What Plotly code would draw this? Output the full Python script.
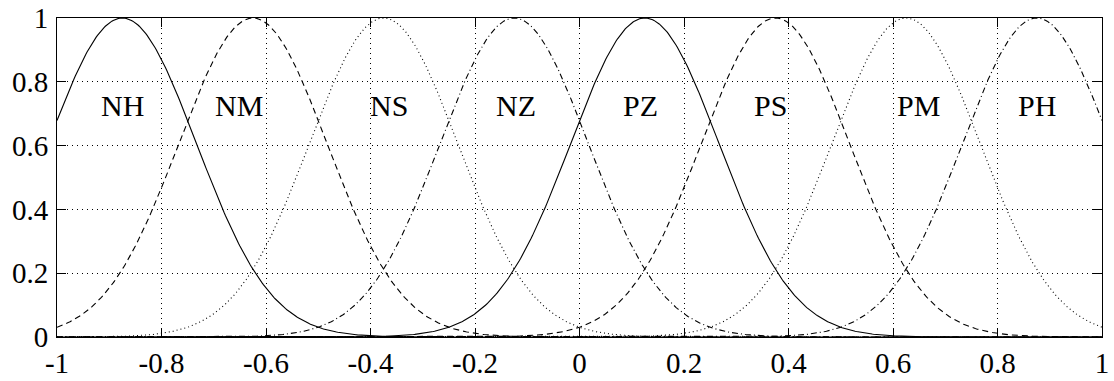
import numpy as np
import plotly.graph_objects as go

# Gaussian membership functions: names, centres and common width
names = ["NH", "NM", "NS", "NZ", "PZ", "PS", "PM", "PH"]
centers = [-0.875, -0.625, -0.375, -0.125, 0.125, 0.375, 0.625, 0.875]
sigmas = [0.142] * 8
dashes = ["solid", "6px,4px", "1px,3px", "6px,3px,1px,3px",
          "solid", "6px,4px", "1px,3px", "6px,3px,1px,3px"]

# label placement inside the plot
label_x = [-0.875, -0.652, -0.365, -0.121, 0.117, 0.365, 0.649, 0.876]
label_y = [0.725] * 8

x_ticks = [-1, -0.8, -0.6, -0.4, -0.2, 0, 0.2, 0.4, 0.6, 0.8, 1]
x_ticktext = ["-1", "-0.8", "-0.6", "-0.4", "-0.2", "0", "0.2", "0.4", "0.6", "0.8", "1"]
y_ticks = [0, 0.2, 0.4, 0.6, 0.8, 1]
y_ticktext = ["0", "0.2", "0.4", "0.6", "0.8", "1"]

SERIF = "'Liberation Serif', 'Times New Roman', Times, serif"

xs = np.linspace(-1, 1, 801)

fig = go.Figure()
for name, c, s, d in zip(names, centers, sigmas, dashes):
    fig.add_trace(go.Scatter(
        x=xs, y=np.exp(-((xs - c) ** 2) / (2 * s ** 2)),
        mode="lines", name=name,
        line=dict(color="black", width=1.1, dash=d),
        hoverinfo="skip",
    ))

for name, lx, ly in zip(names, label_x, label_y):
    fig.add_annotation(x=lx, y=ly, text=name, showarrow=False,
                       xanchor="center", yanchor="middle",
                       font=dict(family=SERIF, size=30, color="black"))

axis_common = dict(
    showline=True, linecolor="black", linewidth=1, mirror="ticks",
    ticks="inside", ticklen=9, tickcolor="black", tickwidth=1,
    showgrid=True, gridcolor="black", gridwidth=1, griddash="1px,4px",
    zeroline=False, automargin=False,
    tickfont=dict(family=SERIF, size=29, color="black"),
)

fig.update_xaxes(range=[-1, 1], tickvals=x_ticks, ticktext=x_ticktext, **axis_common)
fig.update_yaxes(range=[0, 1], tickvals=y_ticks, ticktext=y_ticktext,
                 ticklabelstandoff=2, **axis_common)

fig.update_layout(
    template="none",
    width=1114, height=381,
    margin=dict(l=57, r=12, t=18, b=44),
    paper_bgcolor="white", plot_bgcolor="white",
    showlegend=False,
    font=dict(family=SERIF, color="black"),
)

fig.write_html("out.html")
